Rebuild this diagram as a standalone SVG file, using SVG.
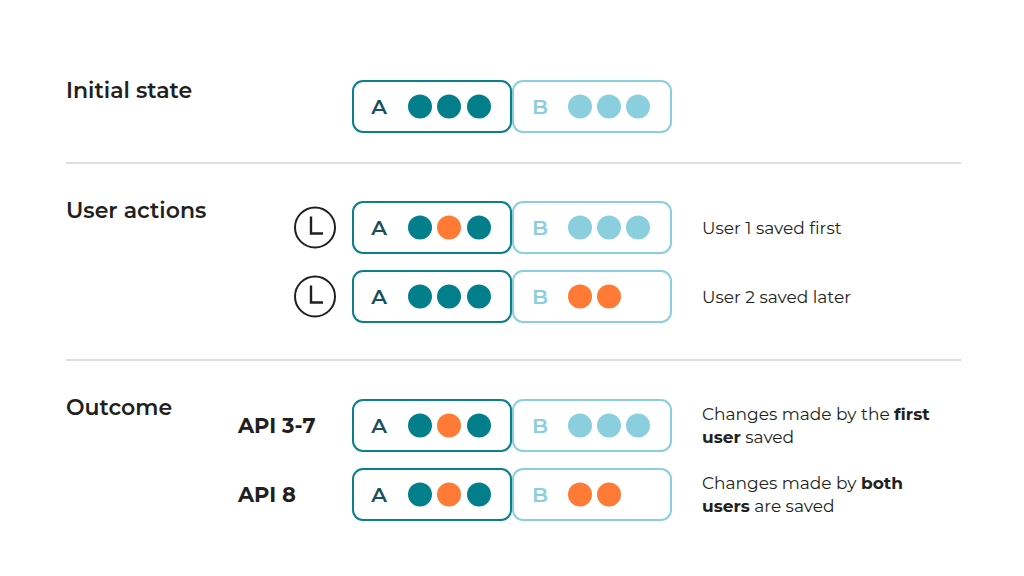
<svg xmlns="http://www.w3.org/2000/svg" width="1024" height="576" viewBox="0 0 1024 576">
<style>
text{font-family:Montserrat,"Noto Sans","Open Sans",sans-serif}
.h{font-size:22px;font-weight:600;fill:#231f20}
.t{font-size:17px;fill:#231f20}
.api{font-size:21px;font-weight:700;fill:#231f20}
.ba{fill:#fff;stroke:#0b7f8b;stroke-width:2}
.bb{fill:#fff;stroke:#8bcfdf;stroke-width:2}
.la{font-size:21px;font-weight:600;fill:#1b4f5e}
.lb{font-size:21px;font-weight:600;fill:#8bcfdf}
.d{fill:#037f8c}.l{fill:#8bcfdf}.o{fill:#ff7a35}
.sep{stroke:#bbbbbb;stroke-width:1.2}
.ck{fill:#fff;stroke:#231f20;stroke-width:2}
</style>
<defs>
<g id="clock"><circle class="ck" r="20"/><path d="M-4,-11 V6 H8" fill="none" stroke="#231f20" stroke-width="2.4"/></g>
</defs>
<text class="h" x="66" y="98">Initial state</text>
<text class="h" x="66" y="218">User actions</text>
<text class="h" x="66" y="415">Outcome</text>
<g id="connectors"><line class="sep" x1="66" y1="163" x2="961" y2="163"/><line class="sep" x1="66" y1="360" x2="961" y2="360"/></g>
<g id="row1" transform="translate(0,81)">
<rect class="ba" x="353" y="0" width="158" height="51" rx="10"/><text class="la" x="379" y="33" text-anchor="middle">A</text>
<circle class="d" cx="420" cy="25.5" r="12"/><circle class="d" cx="449" cy="25.5" r="12"/><circle class="d" cx="479" cy="25.5" r="12"/>
<rect class="bb" x="513" y="0" width="158" height="51" rx="10"/><text class="lb" x="540" y="33" text-anchor="middle">B</text>
<circle class="l" cx="580" cy="25.5" r="12"/><circle class="l" cx="609" cy="25.5" r="12"/><circle class="l" cx="638" cy="25.5" r="12"/>
</g>
<g id="row2" transform="translate(0,202)">
<use href="#clock" x="315" y="25.5"/>
<rect class="ba" x="353" y="0" width="158" height="51" rx="10"/><text class="la" x="379" y="33" text-anchor="middle">A</text>
<circle class="d" cx="420" cy="25.5" r="12"/><circle class="o" cx="449" cy="25.5" r="12"/><circle class="d" cx="479" cy="25.5" r="12"/>
<rect class="bb" x="513" y="0" width="158" height="51" rx="10"/><text class="lb" x="540" y="33" text-anchor="middle">B</text>
<circle class="l" cx="580" cy="25.5" r="12"/><circle class="l" cx="609" cy="25.5" r="12"/><circle class="l" cx="638" cy="25.5" r="12"/>
<text class="t" x="702" y="32">User 1 saved first</text>
</g>
<g id="row3" transform="translate(0,271)">
<use href="#clock" x="315" y="25.5"/>
<rect class="ba" x="353" y="0" width="158" height="51" rx="10"/><text class="la" x="379" y="33" text-anchor="middle">A</text>
<circle class="d" cx="420" cy="25.5" r="12"/><circle class="d" cx="449" cy="25.5" r="12"/><circle class="d" cx="479" cy="25.5" r="12"/>
<rect class="bb" x="513" y="0" width="158" height="51" rx="10"/><text class="lb" x="540" y="33" text-anchor="middle">B</text>
<circle class="o" cx="580" cy="25.5" r="12"/><circle class="o" cx="609" cy="25.5" r="12"/>
<text class="t" x="702" y="32">User 2 saved later</text>
</g>
<g id="row4" transform="translate(0,400)">
<text class="api" x="238" y="33">API 3-7</text>
<rect class="ba" x="353" y="0" width="158" height="51" rx="10"/><text class="la" x="379" y="33" text-anchor="middle">A</text>
<circle class="d" cx="420" cy="25.5" r="12"/><circle class="o" cx="449" cy="25.5" r="12"/><circle class="d" cx="479" cy="25.5" r="12"/>
<rect class="bb" x="513" y="0" width="158" height="51" rx="10"/><text class="lb" x="540" y="33" text-anchor="middle">B</text>
<circle class="l" cx="580" cy="25.5" r="12"/><circle class="l" cx="609" cy="25.5" r="12"/><circle class="l" cx="638" cy="25.5" r="12"/>
<text class="t" x="702" y="20">Changes made by the <tspan font-weight="700">first</tspan></text>
<text class="t" x="702" y="43"><tspan font-weight="700">user</tspan> saved</text>
</g>
<g id="row5" transform="translate(0,469)">
<text class="api" x="238" y="33">API 8</text>
<rect class="ba" x="353" y="0" width="158" height="51" rx="10"/><text class="la" x="379" y="33" text-anchor="middle">A</text>
<circle class="d" cx="420" cy="25.5" r="12"/><circle class="o" cx="449" cy="25.5" r="12"/><circle class="d" cx="479" cy="25.5" r="12"/>
<rect class="bb" x="513" y="0" width="158" height="51" rx="10"/><text class="lb" x="540" y="33" text-anchor="middle">B</text>
<circle class="o" cx="580" cy="25.5" r="12"/><circle class="o" cx="609" cy="25.5" r="12"/>
<text class="t" x="702" y="20">Changes made by <tspan font-weight="700">both</tspan></text>
<text class="t" x="702" y="43"><tspan font-weight="700">users</tspan> are saved</text>
</g>
</svg>
